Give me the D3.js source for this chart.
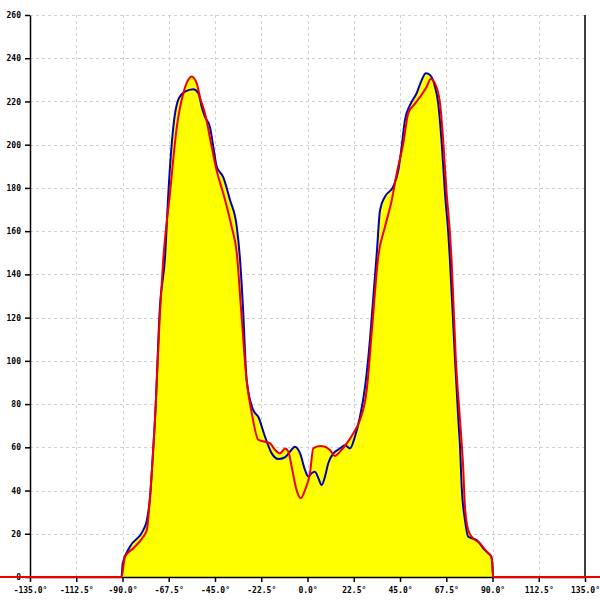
<!DOCTYPE html>
<html>
<head>
<meta charset="utf-8">
<script src="https://cdn.jsdelivr.net/npm/d3@7/dist/d3.min.js"></script>
<style>
  html, body { margin: 0; padding: 0; background: #fff; }
  svg { display: block; }
  .tick text { font-family: "DejaVu Sans Mono", monospace; font-size: 8px; font-weight: bold; fill: #000; }
</style>
</head>
<body>
<svg id="chart" width="600" height="600"></svg>
<script>
// ---- data (angle in degrees, value) ----
const blueAngles = [-150, -90.5, -89.9, -86.4, -79.9, -78.2, -76.6, -75.0, -74.2, -71.8, -69.3, -67.7, -65.3, -62.9, -59.6, -55.6, -53.1, -51.5, -49.9, -47.4, -45.8, -44.2, -41.0, -37.7, -34.4, -32.8, -31.4, -29.6, -26.4, -23.9, -20.7, -17.4, -14.2, -10.9, -8.5, -6.1, -3.6, -1.2, 0.4, 2.0, 3.6, 5.3, 6.9, 8.5, 10.1, 12.6, 15.8, 18.2, 20.7, 23.1, 25.5, 28.0, 30.4, 31.9, 33.7, 35.3, 37.7, 41.7, 44.2, 45.8, 47.4, 49.9, 53.1, 55.6, 57.6, 59.6, 62.0, 63.6, 65.3, 66.9, 68.5, 69.3, 71.8, 73.4, 74.2, 75.0, 76.6, 78.2, 82.3, 85.5, 87.9, 89.4, 90.0, 90.3, 150];
const blueValues = [0, 0, 6.3, 14, 21.7, 26, 37, 60, 72.6, 125, 148, 177.5, 208, 220.7, 224.5, 225.6, 223.8, 217.6, 213, 208, 199, 190, 185, 174.4, 162, 146.6, 125, 91, 77.3, 74, 65, 57.2, 54.6, 55.4, 58, 60.3, 57.2, 49.5, 46.4, 48, 48.7, 45.7, 42.6, 46.4, 52.6, 57.2, 59.5, 61, 59.5, 65, 74, 88, 110, 128, 149.8, 169.8, 176, 180.6, 188.3, 199, 211.4, 218.4, 223.8, 230, 233, 232.2, 226.8, 219, 200.6, 177.5, 159, 146.6, 100, 72.6, 60.3, 41.8, 26.4, 18.6, 17.1, 13.3, 11, 9.4, 4.8, 0, 0];

const redAngles = [-150, -90.5, -88.8, -84.7, -79.9, -78.2, -76.6, -75.0, -74.2, -71.8, -70.2, -66.9, -63.6, -60.4, -58.0, -56.4, -53.9, -52.3, -49.9, -46.6, -44.2, -41.0, -36.9, -34.4, -32.4, -29.6, -27.1, -23.9, -20.7, -18.2, -15.8, -13.4, -10.9, -9.3, -7.7, -5.3, -3.3, -1.2, 1.2, 2.8, 6.1, 8.5, 10.9, 13.4, 15.8, 19.1, 22.3, 25.5, 28.8, 31.4, 34.4, 37.7, 41.0, 43.4, 46.6, 49.0, 52.3, 54.7, 58.0, 59.9, 62.0, 64.5, 66.1, 67.7, 69.3, 70.1, 72.2, 74.2, 75.8, 76.6, 78.2, 79.9, 83.9, 87.2, 89.4, 90.0, 90.3, 150];
const redValues = [0, 0, 9.4, 13.3, 18.6, 21.7, 37, 60, 72.6, 122, 146.6, 177.6, 208, 223.8, 230, 231.6, 228.4, 222, 214.5, 199, 188, 177.5, 162, 149.8, 125, 91, 75.7, 63.4, 62.6, 61.8, 58.8, 57.2, 59.5, 58, 51, 40.2, 36.4, 40.2, 48, 59.5, 60.6, 60.3, 58.8, 56, 58, 61.8, 66.5, 72.6, 86.5, 115, 148, 162, 174.4, 186.7, 200.6, 214.5, 219, 222, 226.8, 230.4, 228.4, 219, 200.6, 177.5, 159, 146.6, 100, 72.6, 49.5, 32.5, 21.7, 18.6, 15.6, 11.7, 9.4, 4.8, 0, 0];

const xTicks = [-135, -112.5, -90, -67.5, -45, -22.5, 0, 22.5, 45, 67.5, 90, 112.5, 135];
const yTicks = [0, 20, 40, 60, 80, 100, 120, 140, 160, 180, 200, 220, 240, 260];

// ---- layout ----
const svg = d3.select("#chart");
const mLeft = 30, mRight = 585, mTop = 15, mBottom = 577;

const x = d3.scaleLinear().domain([-135, 135]).range([mLeft, mRight]);
const y = d3.scaleLinear().domain([0, 260]).range([mBottom, mTop]);

const blue = blueAngles.map((a, i) => [a, blueValues[i]]);
const red = redAngles.map((a, i) => [a, redValues[i]]);

// grid
const grid = svg.append("g");
grid.selectAll("line.h").data(yTicks.filter(d => d > 0)).join("line")
  .attr("x1", mLeft).attr("x2", mRight)
  .attr("y1", d => Math.round(y(d)) + 0.5).attr("y2", d => Math.round(y(d)) + 0.5)
  .attr("stroke", "#d0d0d0").attr("stroke-width", 1).attr("stroke-dasharray", "3,3")
  .attr("shape-rendering", "crispEdges");
grid.selectAll("line.v").data(xTicks.filter(d => d > -135 && d < 135)).join("line")
  .attr("x1", d => Math.round(x(d)) + 0.5).attr("x2", d => Math.round(x(d)) + 0.5)
  .attr("y1", mTop).attr("y2", mBottom)
  .attr("stroke", "#d0d0d0").attr("stroke-width", 1).attr("stroke-dasharray", "3,3")
  .attr("shape-rendering", "crispEdges");

// fills (union of both areas)
const area = d3.area().x(d => x(d[0])).y0(y(0)).y1(d => y(d[1])).curve(d3.curveMonotoneX);
svg.append("path").datum(blue).attr("d", area).attr("fill", "#ffff00");
svg.append("path").datum(red).attr("d", area).attr("fill", "#ffff00");

// axes
const yAxis = d3.axisLeft(y).tickValues(yTicks).tickSize(5).tickSizeOuter(0).tickFormat(d3.format("d"));
const gy = svg.append("g").attr("transform", `translate(${mLeft},0)`).call(yAxis);
gy.select(".domain").attr("stroke", "#000").attr("stroke-width", 1.5);
gy.selectAll(".tick line").attr("stroke-width", 1.5);
gy.selectAll(".tick text").attr("x", -9);

const xAxis = d3.axisBottom(x).tickValues(xTicks).tickSize(5).tickSizeOuter(0).tickFormat(d => d3.format(".1f")(d).replace("\u2212", "-") + "°");
const gx = svg.append("g").attr("transform", `translate(0,${mBottom})`).call(xAxis);
gx.select(".domain").attr("stroke", "#000").attr("stroke-width", 1.5);
gx.selectAll(".tick line").attr("stroke-width", 1.5);
gx.selectAll(".tick text").attr("dy", "1em");

// right frame line
svg.append("line").attr("x1", mRight).attr("x2", mRight).attr("y1", mTop).attr("y2", mBottom)
  .attr("stroke", "#000").attr("stroke-width", 1.5);

// lines
const line = d3.line().x(d => x(d[0])).y(d => y(d[1])).curve(d3.curveMonotoneX);
svg.append("path").datum(blue).attr("d", line).attr("fill", "none").attr("stroke", "#0000bb").attr("stroke-width", 2);
svg.append("path").datum(red).attr("d", line).attr("fill", "none").attr("stroke", "#ee0000").attr("stroke-width", 2);
</script>
</body>
</html>
